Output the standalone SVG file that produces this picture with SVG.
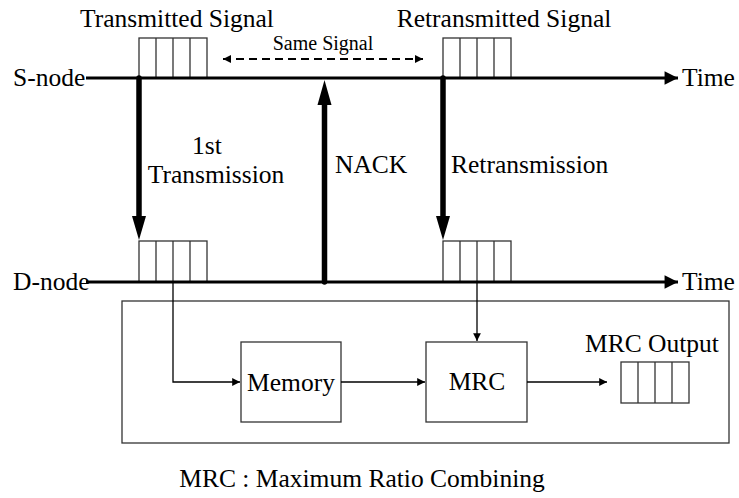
<svg xmlns="http://www.w3.org/2000/svg" width="739" height="498" viewBox="0 0 739 498" font-family="'Liberation Serif', serif">
  <defs>
    <marker id="timeHead" viewBox="0 0 10 10" refX="10" refY="5" markerWidth="7" markerHeight="4.2" markerUnits="strokeWidth" orient="auto">
      <path d="M0,0 L10,5 L0,10 Z" fill="#000"/>
    </marker>
    <marker id="thinHead" viewBox="0 0 10 10" refX="10" refY="5" markerWidth="7" markerHeight="6" markerUnits="strokeWidth" orient="auto">
      <path d="M0,0 L10,5 L0,10 Z" fill="#000"/>
    </marker>
    <marker id="dashHead" viewBox="0 0 10 10" refX="10" refY="5" markerWidth="5" markerHeight="4" markerUnits="strokeWidth" orient="auto-start-reverse">
      <path d="M0,0 L10,5 L0,10 Z" fill="#000"/>
    </marker>
  </defs>
  <style>
    text { font-family: "Liberation Serif", serif; fill: #000; }
    .lbl { font-size: 25.5px; }
    .small { font-size: 20px; }
    .mid { text-anchor: middle; }
    .box { fill: #fff; stroke: #333; stroke-width: 1.3; }
    .cell { fill: none; stroke: #333; stroke-width: 1.3; }
    .timeline { stroke: #000; stroke-width: 3.2; fill: none; marker-end: url(#timeHead); }
    .thick { stroke: #000; stroke-width: 5.5; fill: none; }
    .thin { stroke: #000; stroke-width: 1.3; fill: none; }
    .dash { stroke: #000; stroke-width: 2; stroke-dasharray: 8 5; fill: none; marker-start: url(#dashHead); marker-end: url(#dashHead); }
  </style>

  <!-- receiver processing block -->
  <g id="receiver">
    <rect class="box" x="122" y="301" width="607" height="142"/>
  </g>

  <!-- time axes -->
  <g id="s-node">
    <text class="lbl" x="13" y="86">S-node</text>
    <text class="lbl" x="682" y="86">Time</text>
  </g>
  <g id="d-node">
    <text class="lbl" x="13" y="290">D-node</text>
    <text class="lbl" x="682" y="290">Time</text>
  </g>

  <!-- signal packets (4 cells each) -->
  <g id="tx-signal">
    <text class="lbl mid" x="177" y="27">Transmitted Signal</text>
    <rect class="cell" x="139" y="38" width="68" height="40"/>
    <path class="cell" d="M156,38V78M173,38V78M190,38V78"/>
  </g>
  <g id="retx-signal">
    <text class="lbl mid" x="504" y="27">Retransmitted Signal</text>
    <rect class="cell" x="443" y="38" width="68" height="40"/>
    <path class="cell" d="M460,38V78M477,38V78M494,38V78"/>
  </g>
  <g id="rx-first">
    <rect class="cell" x="139" y="241" width="68" height="41"/>
    <path class="cell" d="M156,241V282M173,241V282M190,241V282"/>
  </g>
  <g id="rx-retx">
    <rect class="cell" x="443" y="241" width="68" height="41"/>
    <path class="cell" d="M460,241V282M477,241V282M494,241V282"/>
  </g>

  <!-- processing blocks -->
  <g id="memory">
    <rect class="box" x="241" y="342" width="100" height="80"/>
    <text class="lbl mid" x="291" y="391">Memory</text>
  </g>
  <g id="mrc">
    <rect class="box" x="426" y="342" width="101" height="80"/>
    <text class="lbl mid" x="477" y="390">MRC</text>
  </g>
  <g id="mrc-output">
    <text class="lbl mid" x="652" y="352">MRC Output</text>
    <rect class="cell" x="621" y="362" width="68" height="41"/>
    <path class="cell" d="M638,362V403M655,362V403M672,362V403"/>
  </g>

  <!-- connectors -->
  <g id="connectors">
    <path class="timeline" d="M86,78H678"/>
    <path class="timeline" d="M86,282H678"/>

    <path class="dash" d="M223,59H423"/>
    <text class="small mid" x="323" y="50">Same Signal</text>

    <!-- 1st transmission -->
    <path class="thick" d="M139,78V220" stroke-linecap="round"/>
    <path d="M132,216H146L139,240Z" fill="#000"/>
    <text class="lbl mid" x="207" y="154">1st</text>
    <text class="lbl mid" x="216" y="183">Transmission</text>

    <!-- NACK -->
    <path class="thick" d="M324.5,282V102" stroke-linecap="round"/>
    <path d="M317.5,105H331.5L324.5,80Z" fill="#000"/>
    <text class="lbl" x="335" y="173">NACK</text>

    <!-- retransmission -->
    <path class="thick" d="M443,78V220" stroke-linecap="round"/>
    <path d="M436,216H450L443,240Z" fill="#000"/>
    <text class="lbl" x="451" y="173">Retransmission</text>

    <!-- receiver data paths -->
    <path class="thin" d="M173,282V382H240" marker-end="url(#thinHead)"/>
    <path class="thin" d="M477,282V341" marker-end="url(#thinHead)"/>
    <path class="thin" d="M341,382H425" marker-end="url(#thinHead)"/>
    <path class="thin" d="M527,382H607" marker-end="url(#thinHead)"/>
  </g>

  <text class="lbl mid" x="362" y="487">MRC : Maximum Ratio Combining</text>
</svg>
